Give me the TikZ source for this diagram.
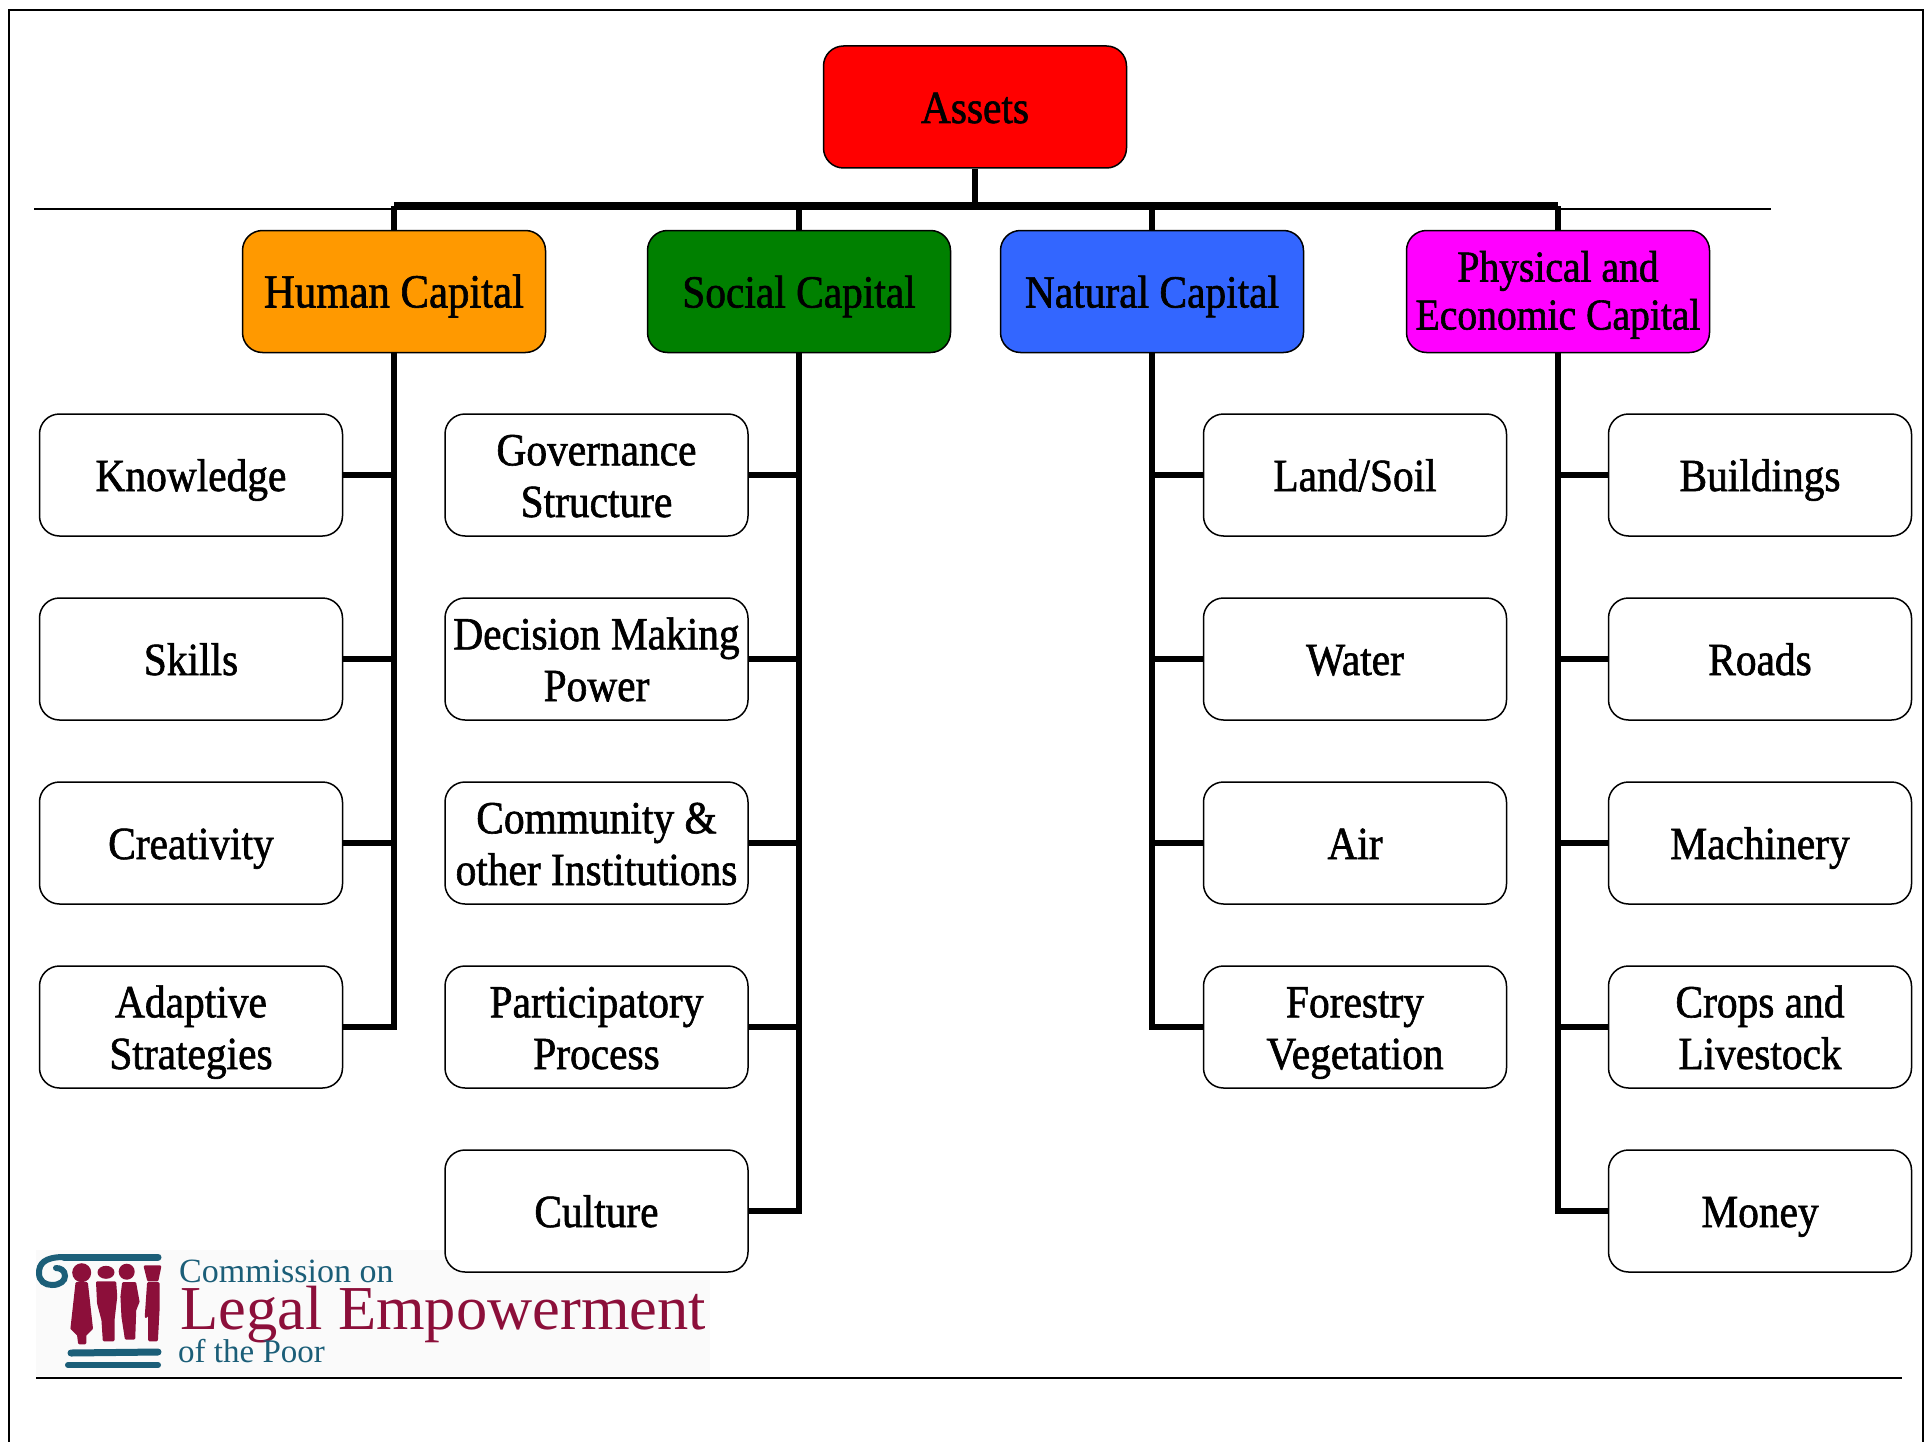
\documentclass[tikz,border=0pt]{standalone}
\usepackage{fontspec}
\setmainfont[FakeStretch=0.9,FakeBold=1.3]{Liberation Serif}
\newfontfamily\logofont{Liberation Serif}

\definecolor{assetred}{HTML}{FF0000}
\definecolor{humanorange}{HTML}{FF9900}
\definecolor{socialgreen}{HTML}{008000}
\definecolor{naturalblue}{HTML}{3366FF}
\definecolor{physicalpink}{HTML}{FF00FF}
\definecolor{logoteal}{HTML}{1B5E78}
\definecolor{logocrimson}{HTML}{8C0F3A}
\definecolor{logopaper}{HTML}{FAFAFA}

\newcommand{\boxstrut}{\rule[-10pt]{0pt}{52pt}}
\newcommand{\pairstrut}[1]{\rule[-10pt]{0pt}{#1}}

\tikzset{
	itembox/.style={draw,line width=1.5pt,rounded corners=20pt,fill=white,minimum width=303pt,minimum height=122pt,
		inner sep=0pt,align=center,font={\fontsize{46}{51.7}\selectfont},
		execute at begin node={\boxstrut},execute at end node={\boxstrut}},
	pairbox/.style={itembox,execute at begin node={\pairstrut{#1}}},
	pairbox/.default=104pt,
	headbox/.style={itembox,font={\fontsize{46}{50}\selectfont}},
	trunk/.style={line width=6pt,miter limit=10},
	busline/.style={line width=8pt,line cap=square},
	rule/.style={line width=2pt},
	logotext/.style={anchor=base west,inner sep=0pt},
	logofigure/.style={fill=logocrimson,draw=logocrimson,line width=2.5pt,line join=round}
}

\begin{document}
\begin{tikzpicture}[x=1pt,y=-1pt]
	\useasboundingbox (0,0) rectangle (1927,1442);
	\fill[white] (0,0) rectangle (1927,1442);

	\draw[line width=2.5pt] (9,1442) -- (9,10) -- (1923,10) -- (1923,1442);
	\draw[rule] (34,209) -- (1771,209);
	\draw[rule] (36,1378) -- (1902,1378);

	% logo
	\fill[logopaper] (36,1250) rectangle (710,1376);
	\draw[logoteal,line width=7pt,line cap=round] (64,1257) -- (158,1257);
	\draw[logoteal,line width=6pt,line cap=round] (64,1257) .. controls (44,1257) and (39,1264) .. (39,1273)
		.. controls (39,1281) and (45,1285) .. (52,1285) .. controls (60,1285) and (65,1281) .. (65,1276)
		.. controls (65,1270) and (60,1268) .. (56,1268);
	\draw[logoteal,line width=7pt,line cap=round] (71,1353) -- (158,1352);
	\draw[logoteal,line width=6pt,line cap=round] (68,1365) -- (158,1365);
	\fill[logocrimson] (81.7,1272.7) circle (9.5pt);
	\path[logofigure] (76.7,1283.3) -- (86.7,1283.3) -- (91.7,1328.3) -- (85,1335) -- (85,1343) -- (79.3,1343) -- (78.3,1335) -- (71.7,1328.3) -- cycle;
	\fill[logocrimson] (106,1272.3) ellipse (8.5pt and 6.5pt);
	\path[logofigure] (97.3,1282.7) -- (115,1282.7) -- (116,1296.7) -- (113.3,1320) -- (113.3,1340) -- (104,1340) -- (102.7,1320) -- (98.3,1303.3) -- cycle;
	\fill[logocrimson] (126.7,1271.7) circle (8pt);
	\path[logofigure] (123.3,1283.3) -- (135,1283.3) -- (138.3,1301.7) -- (135,1310) -- (134,1338.3) -- (126,1338.3) -- (122.7,1316.7) -- (121.7,1296.7) -- cycle;
	\path[logofigure] (145,1266.7) -- (160,1266.7) -- (157.3,1280) -- (148.3,1280) -- cycle;
	\path[logofigure] (148.3,1283.3) -- (158.3,1283.3) -- (158.3,1310) -- (156.7,1340) -- (149.3,1340) -- (149.3,1313) -- (146,1316.7) -- cycle;
	\node[logotext,text=logoteal,font={\logofont\fontsize{34}{34}\selectfont}] (commission) at (179,1282) {Commission on};
	\node[logotext,text=logocrimson,font={\logofont\fontsize{62.5}{62.5}\selectfont}] (legal) at (180,1329) {Legal Empowerment};
	\node[logotext,text=logoteal,font={\logofont\fontsize{33}{33}\selectfont}] (ofpoor) at (178,1362) {of the Poor};

	\node[headbox,fill=assetred] (assets) at (975,107) {Assets};

	\node[headbox,fill=humanorange,font={\fontsize{47.5}{50}\selectfont}] (human) at (394,291.5) {Human Capital};
	\node[headbox,fill=socialgreen] (social) at (799,291.5) {Social Capital};
	\node[headbox,fill=naturalblue] (natural) at (1152,291.5) {Natural Capital};
	\node[pairbox=96pt,fill=physicalpink,font={\fontsize{44}{48}\selectfont}] (physical) at (1558,291.5) {Physical and\\Economic Capital};

	\node[itembox] (knowledge) at (191,475) {Knowledge};
	\node[itembox] (skills) at (191,659) {Skills};
	\node[itembox] (creativity) at (191,843) {Creativity};
	\node[pairbox] (adaptive) at (191,1027) {Adaptive\\Strategies};

	\node[pairbox] (governance) at (596.5,475) {Governance\\Structure};
	\node[pairbox] (decision) at (596.5,659) {Decision Making\\Power};
	\node[pairbox] (community) at (596.5,843) {Community \&\\other Institutions};
	\node[pairbox] (participatory) at (596.5,1027) {Participatory\\Process};
	\node[itembox] (culture) at (596.5,1211) {Culture};

	\node[itembox] (land) at (1355,475) {Land/Soil};
	\node[itembox] (water) at (1355,659) {Water};
	\node[itembox] (air) at (1355,843) {Air};
	\node[pairbox] (forestry) at (1355,1027) {Forestry\\Vegetation};

	\node[itembox] (buildings) at (1760,475) {Buildings};
	\node[itembox] (roads) at (1760,659) {Roads};
	\node[itembox] (machinery) at (1760,843) {Machinery};
	\node[pairbox] (crops) at (1760,1027) {Crops and\\Livestock};
	\node[itembox] (money) at (1760,1211) {Money};

	\coordinate (busmid) at (975,206);

	\draw[trunk] (assets.south) -- (busmid);
	\draw[busline] (human.north |- busmid) -- (physical.north |- busmid);
	\draw[trunk] (human.north) -- (human.north |- busmid);
	\draw[trunk] (social.north) -- (social.north |- busmid);
	\draw[trunk] (natural.north) -- (natural.north |- busmid);
	\draw[trunk] (physical.north) -- (physical.north |- busmid);

	\draw[trunk] (human.south) |- (adaptive.east);
	\draw[trunk] (knowledge.east) -- (knowledge.east -| human.south);
	\draw[trunk] (skills.east) -- (skills.east -| human.south);
	\draw[trunk] (creativity.east) -- (creativity.east -| human.south);

	\draw[trunk] (social.south) |- (culture.east);
	\draw[trunk] (governance.east) -- (governance.east -| social.south);
	\draw[trunk] (decision.east) -- (decision.east -| social.south);
	\draw[trunk] (community.east) -- (community.east -| social.south);
	\draw[trunk] (participatory.east) -- (participatory.east -| social.south);

	\draw[trunk] (natural.south) |- (forestry.west);
	\draw[trunk] (land.west) -- (land.west -| natural.south);
	\draw[trunk] (water.west) -- (water.west -| natural.south);
	\draw[trunk] (air.west) -- (air.west -| natural.south);

	\draw[trunk] (physical.south) |- (money.west);
	\draw[trunk] (buildings.west) -- (buildings.west -| physical.south);
	\draw[trunk] (roads.west) -- (roads.west -| physical.south);
	\draw[trunk] (machinery.west) -- (machinery.west -| physical.south);
	\draw[trunk] (crops.west) -- (crops.west -| physical.south);
\end{tikzpicture}
\end{document}
